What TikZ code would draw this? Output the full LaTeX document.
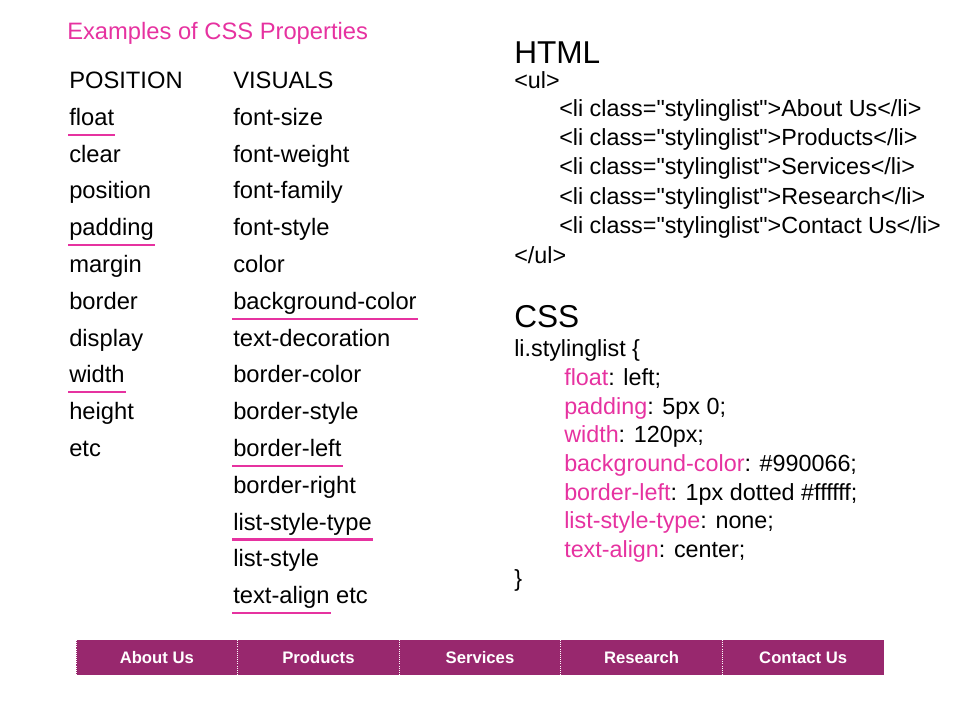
\documentclass[tikz,border=0pt]{standalone}
\usepackage{fontspec}
\setmainfont{Liberation Sans}
\usetikzlibrary{positioning}
\definecolor{csspink}{RGB}{230,50,160}
\definecolor{navbar}{RGB}{152,40,110}
\tikzset{
  txt/.style={anchor=west,inner sep=0.75pt,text height=0.75em,text depth=0.22em,font=\fontsize{17.8}{20}\selectfont},
  code/.style={anchor=west,inner sep=0.75pt,text height=0.75em,text depth=0.22em,font=\fontsize{17.5}{20}\selectfont},
  head/.style={anchor=west,inner sep=0.75pt,font=\fontsize{23.7}{28}\selectfont},
  underln/.style={csspink,line width=1.6pt},
  navitem/.style={text=white,font=\bfseries\fontsize{12.5}{15}\selectfont}
}
\newcommand{\qt}{\textquotedbl}
\begin{document}
\begin{tikzpicture}[x=0.75pt,y=0.75pt,yscale=-1,xscale=1]
\useasboundingbox (0,0) rectangle (960,720);

% Title
\node[txt,text=csspink] (title) at (66,36) {Examples of CSS Properties};

% Position column
\node[txt] (poshead) at (68,85) {POSITION};
\foreach \w [count=\i] in {float,clear,position,padding,margin,border,display,width,height,etc}
  \node[txt] (pos\i) at (68,{85+36.8*\i}) {\w};

% Visuals column
\node[txt] (vishead) at (232,85) {VISUALS};
\foreach \w [count=\i] in {font-size,font-weight,font-family,font-style,color,background-color,text-decoration,border-color,border-style,border-left,border-right,list-style-type,list-style,text-align}
  \node[txt] (vis\i) at (232,{85+36.8*\i}) {\w};
\node[txt,right=3pt of vis14] (visetc) {etc};

% Underlines
\foreach \n in {pos1,pos4,pos8,vis6,vis10,vis12,vis14}
  \draw[underln] ([yshift=7pt]\n.base west) -- ([yshift=7pt]\n.base east);

% HTML
\node[head] (html) at (513,53) {HTML};
\node[code] (ulopen) at (513,85) {<ul>};
\foreach \w [count=\i] in {About Us,Products,Services,Research,Contact Us}
  \node[code] (li\i) at (558,{83.5+29.3*\i}) {<li class=\qt stylinglist\qt>\w</li>};
\node[code] (ulclose) at (513,260) {</ul>};

% CSS
\node[head] (css) at (513,317) {CSS};
\node[code] (sel) at (513,353) {li.stylinglist \{};
\foreach \p/\v [count=\i] in {float/left,padding/5px 0,width/120px,background-color/\#990066,border-left/1px dotted \#ffffff,list-style-type/none,text-align/center}
  \node[code] (rule\i) at (563,{353.5+28.6*\i}) {\textcolor{csspink}{\p}: \v;};
\node[code] (selend) at (513,583) {\}};

% Navigation bar
\fill[navbar] (76,640) rectangle (884,675);
\foreach \w [count=\i] in {About Us,Products,Services,Research,Contact Us}
  \node[navitem] (nav\i) at ({76+161.6*(\i-0.5)},657.5) {\w};
\foreach \i in {0,...,4}
  \draw[white,densely dotted,line width=0.6pt] ({76+161.6*\i},640) -- ({76+161.6*\i},675);
\end{tikzpicture}
\end{document}
